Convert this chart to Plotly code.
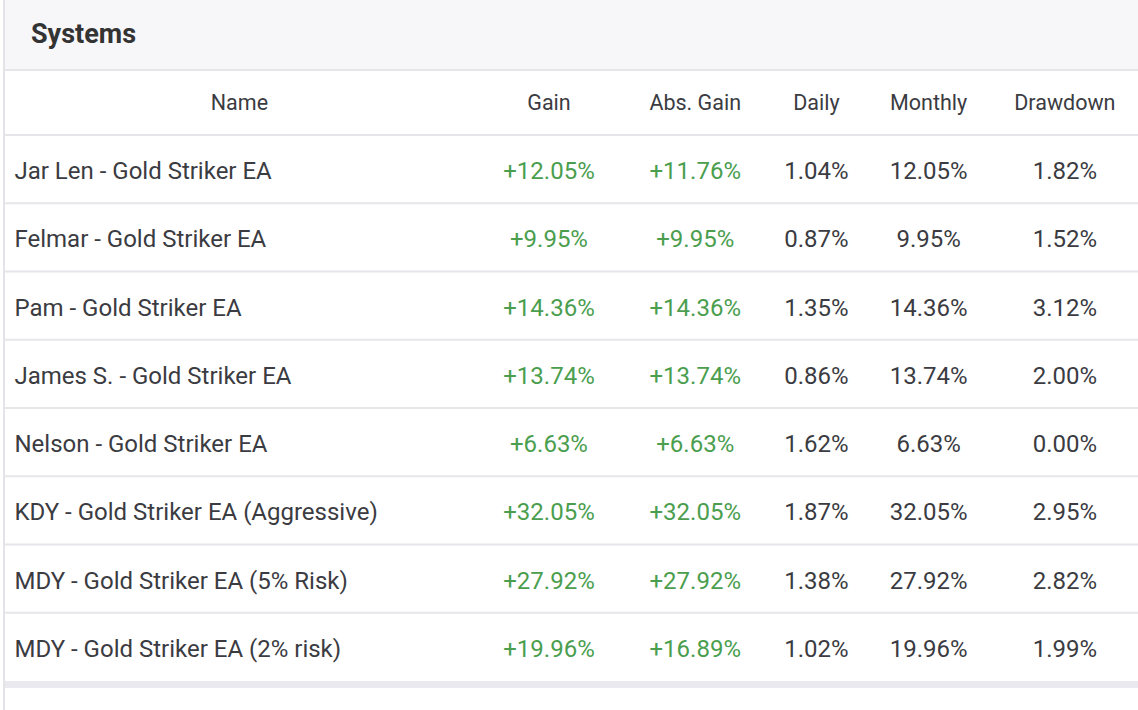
import plotly.graph_objects as go

# table data
columns = ["Name", "Gain", "Abs. Gain", "Daily", "Monthly", "Drawdown"]
names = [
    "Jar Len - Gold Striker EA",
    "Felmar - Gold Striker EA",
    "Pam - Gold Striker EA",
    "James S. - Gold Striker EA",
    "Nelson - Gold Striker EA",
    "KDY - Gold Striker EA (Aggressive)",
    "MDY - Gold Striker EA (5% Risk)",
    "MDY - Gold Striker EA (2% risk)",
]
gain = [12.05, 9.95, 14.36, 13.74, 6.63, 32.05, 27.92, 19.96]
abs_gain = [11.76, 9.95, 14.36, 13.74, 6.63, 32.05, 27.92, 16.89]
daily = [1.04, 0.87, 1.35, 0.86, 1.62, 1.87, 1.38, 1.02]
monthly = [12.05, 9.95, 14.36, 13.74, 6.63, 32.05, 27.92, 19.96]
drawdown = [1.82, 1.52, 3.12, 2.00, 0.00, 2.95, 2.82, 1.99]

W, H = 1138, 710
TEXT = "#3b3b42"
GREEN = "#4a9e4e"
LINE = "#e6e6ea"

col_widths = [470, 148, 144, 98, 126, 146]
header_h = 67
row_h = 68.25
table_top = 86  # where the table text block starts (cells are top aligned)

fmt_signed = lambda v: f"+{v:.2f}%"
fmt_pct = lambda v: f"{v:.2f}%"

fig = go.Figure(go.Table(
    domain=dict(x=[4 / W, 1], y=[0, 1 - table_top / H]),
    columnwidth=col_widths,
    header=dict(
        values=columns,
        height=header_h,
        align="center",
        fill_color="rgba(0,0,0,0)",
        line_color="rgba(0,0,0,0)",
        font=dict(family="Roboto", size=21.5, color=TEXT),
    ),
    cells=dict(
        values=[
            ["\u200a" + n for n in names],
            [fmt_signed(v) for v in gain],
            [fmt_signed(v) for v in abs_gain],
            [fmt_pct(v) for v in daily],
            [fmt_pct(v) for v in monthly],
            [fmt_pct(v) for v in drawdown],
        ],
        height=row_h,
        align=["left", "center", "center", "center", "center", "center"],
        fill_color="rgba(0,0,0,0)",
        line_color="rgba(0,0,0,0)",
        font=dict(family="Roboto", size=24,
                  color=[TEXT, GREEN, GREEN, TEXT, TEXT, TEXT]),
    ),
))

# panel chrome: title band, separators, left border, bottom band
shapes = [
    dict(type="rect", xref="paper", yref="paper", x0=4 / W, x1=1,
         y0=1 - 69 / H, y1=1, fillcolor="#f7f6f9", line_width=0, layer="below"),
    dict(type="rect", xref="paper", yref="paper", x0=4 / W, x1=1,
         y0=1 - 688 / H, y1=1 - 681 / H, fillcolor="#e9e9ef", line_width=0, layer="below"),
]
for yb in [70, 135] + [135 + row_h * (i + 1) for i in range(len(names) - 1)]:
    shapes.append(dict(type="line", xref="paper", yref="paper", x0=4 / W, x1=1,
                       y0=1 - yb / H, y1=1 - yb / H,
                       line=dict(color=LINE, width=2), layer="below"))
shapes.append(dict(type="line", xref="paper", yref="paper", x0=4 / W, x1=4 / W,
                   y0=0, y1=1, line=dict(color="#e4e4e8", width=2), layer="below"))

fig.update_layout(
    width=W, height=H,
    margin=dict(l=0, r=0, t=0, b=0),
    paper_bgcolor="white",
    shapes=shapes,
    annotations=[dict(
        text="<b>Systems</b>", xref="paper", yref="paper",
        x=29 / W, y=1 - 34 / H, xanchor="left", yanchor="middle",
        showarrow=False, font=dict(family="Roboto", size=27, color="#333333"),
    )],
)

fig.write_html("out.html", config={"displayModeBar": False},
               post_script="document.body.style.margin='0';")
